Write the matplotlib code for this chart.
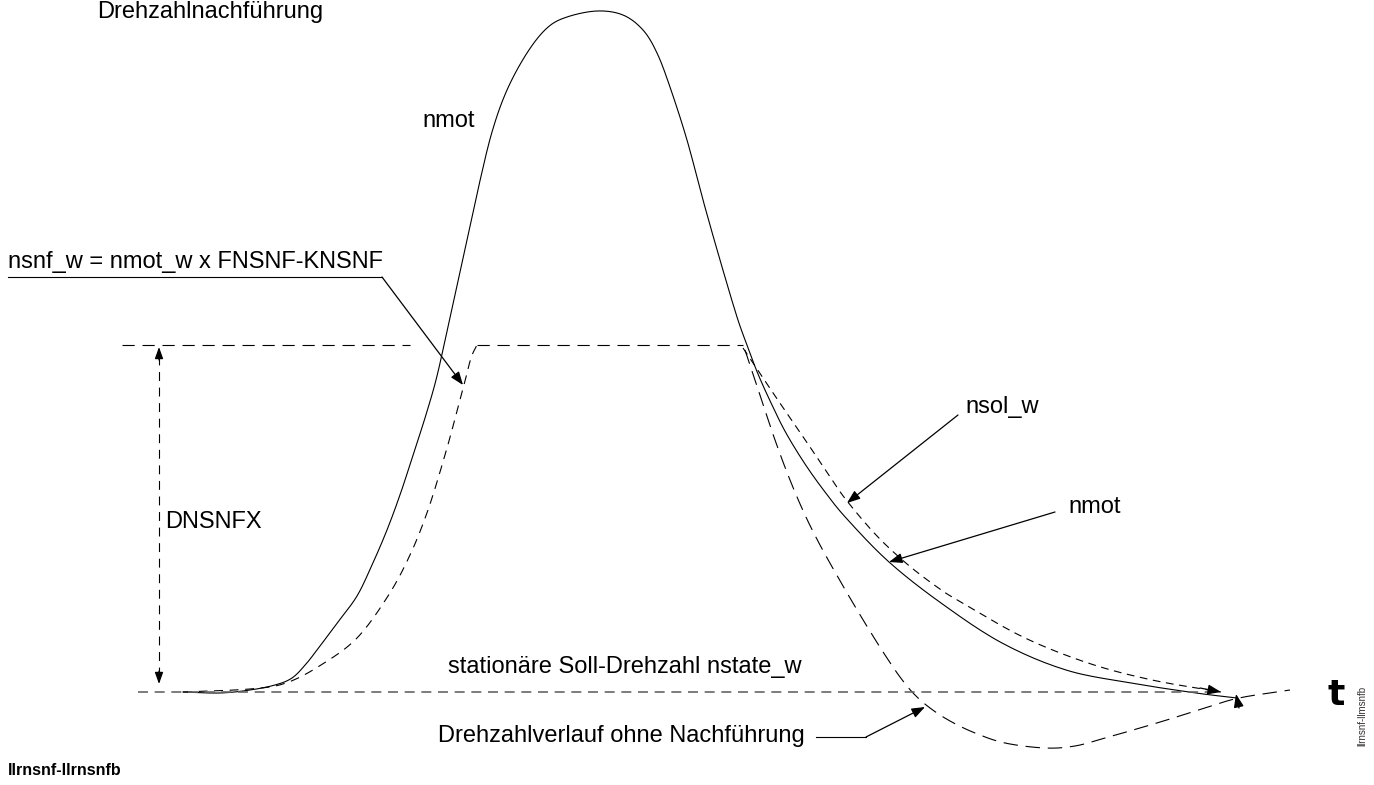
import matplotlib
matplotlib.use("Agg")
import matplotlib.pyplot as plt
import numpy as np

plt.rcParams['font.family'] = ['Liberation Sans', 'DejaVu Sans']

# ---- data (diagram coordinates in pixels, y grows downward) ----
nmot_x = [183, 220, 250, 275, 292, 306, 320, 338, 357, 372, 387, 401, 414, 425, 436, 446,
          456, 467, 479, 492, 507, 527, 547, 567, 597, 623, 643, 657, 670, 687, 703,
          720, 737, 747, 758, 772, 786, 805, 825, 847, 889, 941, 1002, 1066, 1131, 1196, 1237]
nmot_y = [692, 693, 690, 685, 678, 664, 646, 622, 596, 565, 530, 492, 452, 418, 380, 336,
          290, 240, 185, 132, 90, 53, 28, 17, 11, 15, 30, 53, 87, 140, 200,
          260, 317, 345, 374, 405, 433, 464, 492, 519, 562, 603, 643, 670, 683, 693, 698]

nsnf_x = [183, 250, 286, 321, 357, 388, 410, 428, 445, 456, 464, 471, 477]
nsnf_y = [692, 689, 683, 665, 638, 596, 555, 510, 455, 415, 385, 358, 345]

nsol_x = [743, 765, 786, 808, 828, 847, 877, 907, 937, 959, 1023, 1088, 1152, 1221]
nsol_y = [348, 381, 412, 444, 474, 501, 536, 564, 587, 601, 637, 663, 680, 692]

ohne_x = [745, 760, 775, 790, 805, 820, 835, 850, 868, 885, 900, 914, 930, 950, 975,
          1005, 1045, 1075, 1105, 1140, 1170, 1205, 1239, 1290]
ohne_y = [350, 395, 440, 480, 515, 545, 572, 598, 628, 655, 677, 694, 708, 721, 733,
          743, 748, 746, 738, 728, 719, 708, 698, 690]

plateau_left_x = [122, 410]
plateau_right_x = [477, 743]
plateau_y = [345, 345]
base_x = [138, 1215]
base_y = [692, 692]


def smooth(xs, ys, n=12):
    """Catmull-Rom drawing of a curve through the read points."""
    pts = np.column_stack([xs, ys]).astype(float)
    p = np.vstack([2 * pts[0] - pts[1], pts, 2 * pts[-1] - pts[-2]])
    out = []
    t = np.linspace(0, 1, n, endpoint=False)[:, None]
    for i in range(1, len(p) - 2):
        p0, p1, p2, p3 = p[i - 1], p[i], p[i + 1], p[i + 2]
        seg = 0.5 * (2 * p1 + (-p0 + p2) * t + (2 * p0 - 5 * p1 + 4 * p2 - p3) * t ** 2
                     + (-p0 + 3 * p1 - 3 * p2 + p3) * t ** 3)
        out.append(seg)
    out.append(pts[-1:])
    a = np.vstack(out)
    return a[:, 0], a[:, 1]


FS = 17
fig = plt.figure(figsize=(13.74, 7.85), dpi=100)
ax = fig.add_axes([0, 0, 1, 1])
ax.set_xlim(0, 1374)
ax.set_ylim(785, 0)
ax.axis('off')

LW = 0.8
ax.plot(*smooth(nmot_x, nmot_y), color='black', lw=LW)
ax.plot(*smooth(nsnf_x, nsnf_y), color='black', lw=LW, dashes=(8, 6))
ax.plot(plateau_right_x, plateau_y, color='black', lw=LW, dashes=(11, 7))
ax.plot(plateau_left_x, plateau_y, color='black', lw=LW, dashes=(11, 7))
ax.plot(*smooth(nsol_x, nsol_y), color='black', lw=LW, dashes=(7, 5))
ax.plot(*smooth(ohne_x, ohne_y), color='black', lw=LW, dashes=(13, 7))
ax.plot(base_x, base_y, color='#666666', lw=1.2, dashes=(6, 4))

# DNSNFX double arrow
ax.plot([159, 159], [356, 682], color='black', lw=LW, dashes=(8, 6))
ap = dict(arrowstyle='-|>,head_length=0.7,head_width=0.25', color='black', lw=0.9,
          shrinkA=0, shrinkB=0)
ax.annotate('', xy=(159, 347), xytext=(159, 360), arrowprops=ap)
ax.annotate('', xy=(159, 684), xytext=(159, 671), arrowprops=ap)

# annotation arrows
ap2 = dict(arrowstyle='-|>,head_length=0.8,head_width=0.3', color='black', lw=0.9,
           shrinkA=0, shrinkB=0)
ax.plot([8, 382], [277, 277], color='black', lw=LW)
ax.annotate('', xy=(463, 385), xytext=(382, 277), arrowprops=ap2)
ax.annotate('', xy=(847, 503), xytext=(958, 415), arrowprops=ap2)
ax.annotate('', xy=(889, 562), xytext=(1055, 512), arrowprops=ap2)
ax.plot([816, 866], [737, 737], color='black', lw=LW)
ax.annotate('', xy=(925, 707), xytext=(866, 737), arrowprops=ap2)
ax.annotate('', xy=(1221, 692), xytext=(1200, 688), arrowprops=ap2)
ax.annotate('', xy=(1236, 694), xytext=(1239, 708), arrowprops=ap2)

# texts
ax.text(97, 18, 'Drehzahlnachführung', fontsize=FS, va='baseline', ha='left')
ax.text(422, 127, 'nmot', fontsize=FS, va='baseline', ha='left')
ax.text(8, 268, 'nsnf_w = nmot_w x FNSNF-KNSNF', fontsize=FS, va='baseline', ha='left')
ax.text(165, 528, 'DNSNFX', fontsize=FS, va='baseline', ha='left')
ax.text(965, 413, 'nsol_w', fontsize=FS, va='baseline', ha='left')
ax.text(1068, 513, 'nmot', fontsize=FS, va='baseline', ha='left')
ax.text(448, 673, 'stationäre Soll-Drehzahl nstate_w', fontsize=FS, va='baseline', ha='left')
ax.text(438, 742, 'Drehzahlverlauf ohne Nachführung', fontsize=FS, va='baseline', ha='left')
ax.text(8, 775, 'llrnsnf-llrnsnfb', fontsize=11.5, fontweight='bold', va='baseline', ha='left')
ax.text(1336, 695, 't', fontsize=26, fontweight='heavy', family='DejaVu Sans',
        va='center', ha='center')
ax.text(1362, 716, 'llrnsnf-llmsnfb', fontsize=7, rotation=90, color='#333333',
        va='center', ha='center')

fig.savefig('out.png', dpi=100)
